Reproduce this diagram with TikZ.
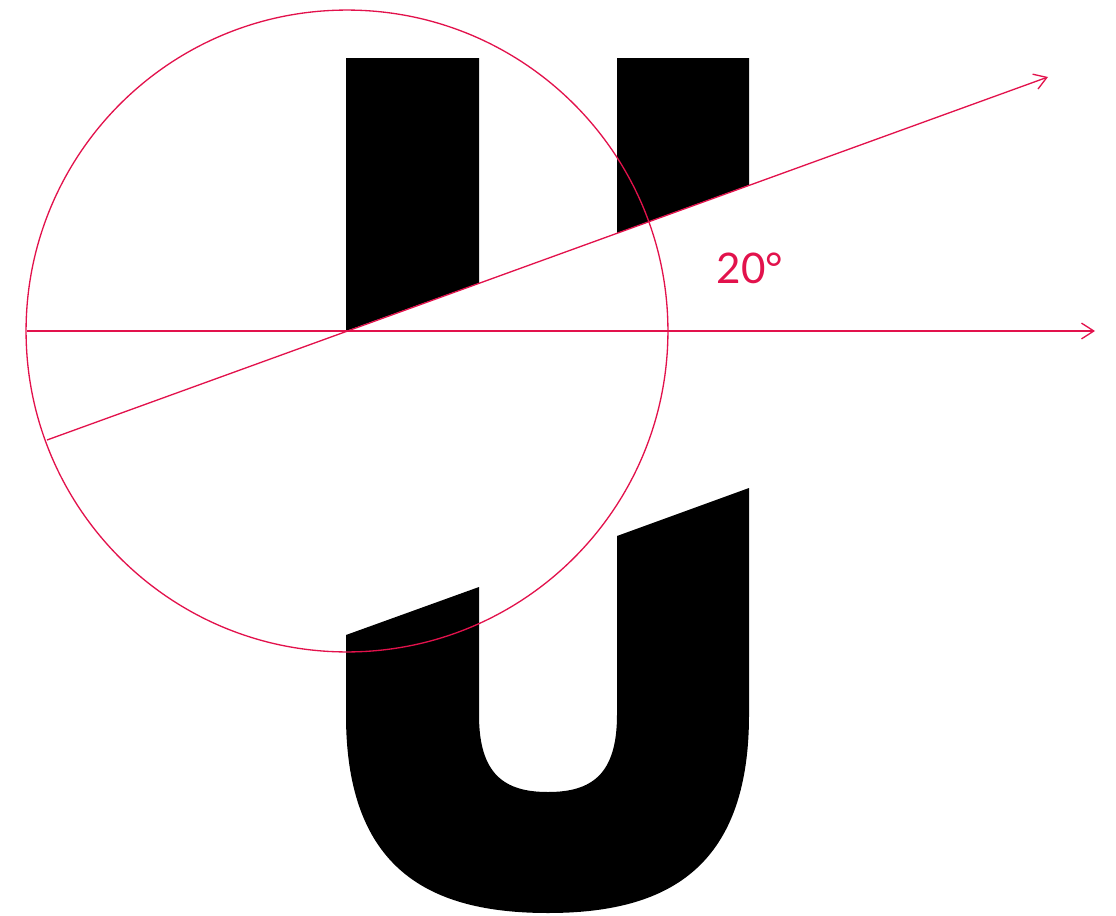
\documentclass[tikz,border=0pt]{standalone}
\usepackage{fontspec}
\setmainfont{Lato}
\usetikzlibrary{arrows.meta}
\definecolor{accent}{RGB}{226,18,76}

\begin{document}
\begin{tikzpicture}[x=0.02cm,y=-0.02cm,>={Straight Barb[length=7pt,width=9pt]}]
  \tikzstyle{guide}=[draw=accent,line width=0.75pt]
  \tikzstyle{glyph}=[fill=black]
  \useasboundingbox (0,0) rectangle (1116,916);
  % upper half of the U, cut at 20 degrees
  \fill[glyph] (346,58) -- (479,58) -- (479,283) -- (346,331) -- cycle;
  \fill[glyph] (617,58) -- (749,58) -- (749,185) -- (617,233) -- cycle;
  % lower half, moved down
  \fill[glyph] (346,635) -- (479,587) -- (479,715)
    .. controls (479,775) and (505,792) .. (548,792)
    .. controls (591,792) and (617,775) .. (617,715)
    -- (617,536) -- (749,488) -- (749,715)
    .. controls (749,870) and (665,913) .. (548,913)
    .. controls (430,913) and (346,870) .. (346,715) -- cycle;
  % guides
  \coordinate (o) at (347,331);
  \coordinate (hl) at (27,331);
  \coordinate (hr) at (1095,331);
  \coordinate (sl) at (47,440);
  \coordinate (sr) at (1048,77);
  \draw[guide] (o) circle[radius=6.42cm];
  \draw[guide,->] (hl) -- (hr);
  \draw[guide,->] (sl) -- (sr);
  \node[text=accent,font=\fontsize{24}{28}\selectfont] (ang) at (750,268) {20°};
\end{tikzpicture}
\end{document}
